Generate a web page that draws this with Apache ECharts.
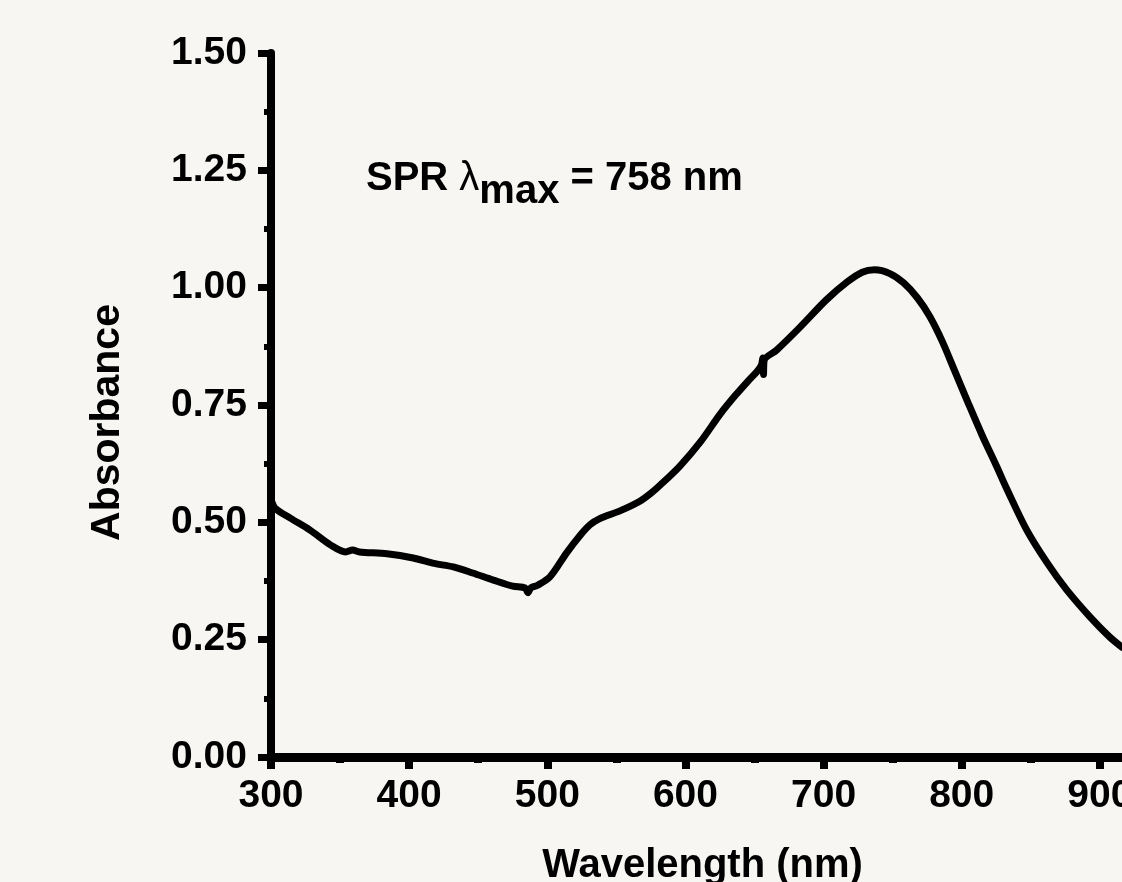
<!DOCTYPE html>
<html>
<head>
<meta charset="utf-8">
<script src="https://cdn.jsdelivr.net/npm/echarts@6/dist/echarts.min.js"></script>
<style>
  html, body { margin: 0; padding: 0; background: #f7f6f2; }
  #chart { width: 1122px; height: 882px; }
</style>
</head>
<body>
<div id="chart"></div>
<script>
// Wavelength (nm) and absorbance
const wavelength = [300, 303, 314, 328, 343, 354, 359, 364, 384, 403, 417, 432, 446, 461, 475, 484, 486, 488, 493, 502, 514, 524, 531, 538, 553, 567, 575, 582, 596, 611, 625, 636, 645, 652, 655, 656, 656.5, 657, 666, 683, 702, 717, 728, 737, 748, 758, 768, 777, 786, 795, 805, 815, 825, 833, 847, 862, 876, 893, 907, 916];
const absorbance = [0.55, 0.530, 0.509, 0.484, 0.452, 0.437, 0.441, 0.437, 0.433, 0.424, 0.413, 0.405, 0.392, 0.377, 0.364, 0.360, 0.350, 0.360, 0.366, 0.384, 0.435, 0.473, 0.495, 0.508, 0.525, 0.545, 0.562, 0.580, 0.620, 0.672, 0.730, 0.770, 0.800, 0.822, 0.835, 0.850, 0.815, 0.845, 0.867, 0.916, 0.974, 1.012, 1.033, 1.038, 1.030, 1.010, 0.978, 0.938, 0.885, 0.822, 0.752, 0.684, 0.621, 0.569, 0.484, 0.413, 0.356, 0.298, 0.256, 0.234];

const xTicks = { min: 300, max: 1000, interval: 100 };
const yTicks = { min: 0, max: 1.5, interval: 0.25 };

const xAxisTitle = 'Wavelength (nm)';
const yAxisTitle = 'Absorbance';

const FONT = '"Liberation Sans", Arial, Helvetica, sans-serif';

const chart = echarts.init(document.getElementById('chart'), null, { renderer: 'canvas' });

const seriesData = wavelength.map((w, i) => [w, absorbance[i]]);

chart.setOption({
  backgroundColor: '#f7f6f2',
  animation: false,
  grid: { left: 271, right: -116, top: 53, bottom: 125, containLabel: false, outerBoundsMode: 'none' },
  title: {
    text: '{a|SPR }{l|λ}{s|max}{a| = 758 nm}',
    left: 366,
    top: 146,
    padding: 0,
    textStyle: {
      rich: {
        a: { fontFamily: FONT, fontWeight: 'bold', fontSize: 40, color: '#000' },
        l: { fontFamily: FONT, fontWeight: 'normal', fontSize: 40, color: '#000' },
        s: { fontFamily: FONT, fontWeight: 'bold', fontSize: 40, color: '#000', padding: [26, 0, 0, 0] }
      }
    }
  },
  xAxis: {
    type: 'value',
    min: xTicks.min,
    max: xTicks.max,
    interval: xTicks.interval,
    name: xAxisTitle,
    nameLocation: 'middle',
    nameGap: 89,
    nameTextStyle: { fontFamily: FONT, fontWeight: 'bold', fontSize: 40, color: '#000', padding: [0, 104, 0, 0] },
    axisLine: { show: true, onZero: false, lineStyle: { color: '#000', width: 9 } },
    axisTick: { show: true, length: 12, lineStyle: { color: '#000', width: 8 } },
    minorTick: { show: true, splitNumber: 2, length: 6, lineStyle: { color: '#000', width: 8 } },
    axisLabel: { fontFamily: FONT, fontWeight: 'bold', fontSize: 39, color: '#000', margin: 20, formatter: v => String(v) },
    splitLine: { show: false },
    minorSplitLine: { show: false }
  },
  yAxis: {
    type: 'value',
    min: yTicks.min,
    max: yTicks.max,
    interval: yTicks.interval,
    name: yAxisTitle,
    nameLocation: 'middle',
    nameGap: 143,
    nameTextStyle: { fontFamily: FONT, fontWeight: 'bold', fontSize: 41, color: '#000', padding: [0, 35, 0, 0] },
    axisLine: { show: true, onZero: false, lineStyle: { color: '#000', width: 8 } },
    axisTick: { show: true, length: 13, lineStyle: { color: '#000', width: 7 } },
    minorTick: { show: true, splitNumber: 2, length: 7, lineStyle: { color: '#000', width: 6 } },
    axisLabel: {
      fontFamily: FONT, fontWeight: 'bold', fontSize: 39, color: '#000', margin: 24,
      formatter: v => v.toFixed(2)
    },
    splitLine: { show: false },
    minorSplitLine: { show: false }
  },
  series: [{
    type: 'line',
    data: seriesData,
    showSymbol: false,
    smooth: 0.3,
    lineStyle: { color: '#000', width: 7, cap: 'round', join: 'round' },
    silent: true
  }]
});
</script>
</body>
</html>
